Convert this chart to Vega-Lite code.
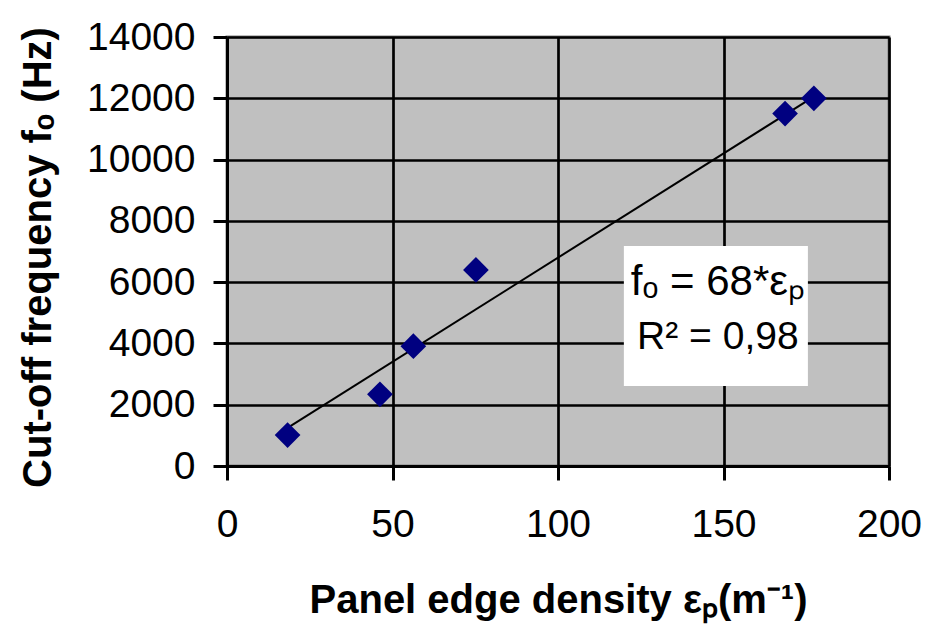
{
  "$schema": "https://vega.github.io/schema/vega-lite/v6.json",
  "width": 662,
  "height": 429,
  "autosize": {"type": "none"},
  "padding": {"left": 227, "top": 37, "right": 44, "bottom": 163},
  "background": "white",
  "config": {
    "view": {"fill": "#C0C0C0", "stroke": "#808080", "strokeWidth": 3},
    "font": "Liberation Sans"
  },
  "datasets": {
    "points": [
      {"density": 18.3, "freq": 1010},
      {"density": 46.2, "freq": 2340},
      {"density": 56.3, "freq": 3910},
      {"density": 75.2, "freq": 6400},
      {"density": 168.6, "freq": 11500},
      {"density": 177.3, "freq": 12000}
    ],
    "trend": [
      {"density": 18.3, "freq": 1244},
      {"density": 177.3, "freq": 12056}
    ]
  },
  "layer": [
    {
      "data": {"name": "trend"},
      "mark": {"type": "line", "color": "black", "strokeWidth": 2},
      "encoding": {
        "x": {
          "field": "density", "type": "quantitative",
          "scale": {"domain": [0, 200], "nice": false, "zero": false},
          "axis": {
            "values": [0, 50, 100, 150, 200], "format": "d", "labelFlush": false,
            "grid": true, "gridColor": "black", "gridWidth": 2.7, "gridOpacity": 1,
            "domainColor": "black", "domainWidth": 3,
            "tickColor": "black", "tickWidth": 3, "tickSize": 14,
            "labelFontSize": 39, "labelColor": "black", "labelPadding": 25, "labelFont": "Liberation Sans",
            "title": "Panel edge density εₚ(m⁻¹)",
            "titleFontSize": 40, "titleFontWeight": "bold", "titleColor": "black", "titleFont": "Liberation Sans",
            "titleX": 331, "titleY": 146, "titleBaseline": "alphabetic", "titleAnchor": "middle", "titleAlign": "center"
          }
        },
        "y": {
          "field": "freq", "type": "quantitative",
          "scale": {"domain": [0, 14000], "nice": false},
          "axis": {
            "values": [0, 2000, 4000, 6000, 8000, 10000, 12000, 14000], "format": "d", "labelFlush": false,
            "grid": true, "gridColor": "black", "gridWidth": 2.7, "gridOpacity": 1,
            "domainColor": "black", "domainWidth": 3,
            "tickColor": "black", "tickWidth": 3, "tickSize": 14,
            "labelFontSize": 39, "labelColor": "black", "labelPadding": 18, "labelFont": "Liberation Sans",
            "title": "Cut-off frequency fₒ (Hz)",
            "titleFontSize": 40, "titleFontWeight": "bold", "titleColor": "black", "titleFont": "Liberation Sans",
            "titleX": -177, "titleY": 220, "titleBaseline": "alphabetic", "titleAngle": 270, "titleAlign": "center"
          }
        }
      }
    },
    {
      "data": {"name": "points"},
      "mark": {"type": "point", "shape": "diamond", "filled": true, "color": "#000080", "size": 660, "opacity": 1},
      "encoding": {
        "x": {"field": "density", "type": "quantitative"},
        "y": {"field": "freq", "type": "quantitative"}
      }
    },
    {
      "data": {"values": [{}]},
      "mark": {"type": "rect", "color": "white", "opacity": 1},
      "encoding": {
        "x": {"datum": 119.9, "type": "quantitative"},
        "x2": {"datum": 175.5},
        "y": {"datum": 7180, "type": "quantitative"},
        "y2": {"datum": 2610}
      }
    },
    {
      "data": {"values": [{"label": "fₒ = 68*εₚ"}]},
      "mark": {"type": "text", "fontSize": 42, "color": "black", "align": "center", "baseline": "alphabetic", "font": "Liberation Sans"},
      "encoding": {
        "x": {"datum": 148.3, "type": "quantitative"},
        "y": {"datum": 5581, "type": "quantitative"},
        "text": {"field": "label"}
      }
    },
    {
      "data": {"values": [{"label": "R² = 0,98"}]},
      "mark": {"type": "text", "fontSize": 39, "color": "black", "align": "center", "baseline": "alphabetic", "font": "Liberation Sans"},
      "encoding": {
        "x": {"datum": 148.3, "type": "quantitative"},
        "y": {"datum": 3809, "type": "quantitative"},
        "text": {"field": "label"}
      }
    }
  ]
}
